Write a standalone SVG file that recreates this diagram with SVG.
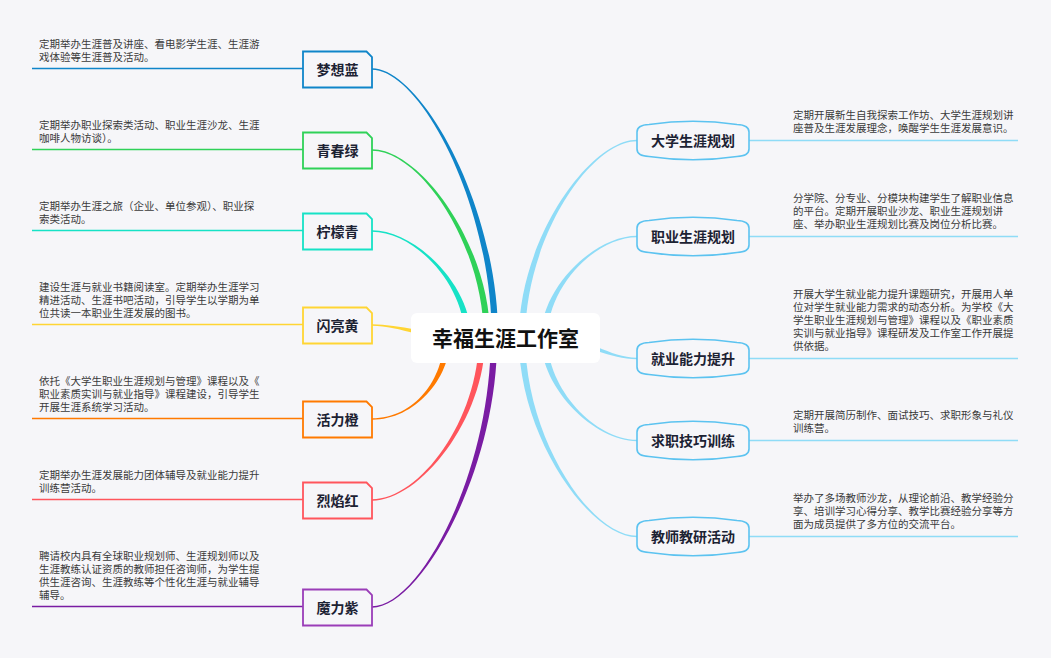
<svg xmlns="http://www.w3.org/2000/svg" width="1051" height="658" viewBox="0 0 1051 658">
<style>
.bg{fill:#f6f6f9}
.desc{font-family:"Noto Sans CJK SC","Noto Sans",sans-serif;font-size:10.5px;fill:#3a3a3a}
.lbl{font-family:"Noto Sans CJK SC","Noto Sans",sans-serif;font-size:14px;font-weight:bold;fill:#1c2233;text-anchor:middle}
.root{font-family:"Noto Sans CJK SC","Noto Sans",sans-serif;font-size:21px;font-weight:bold;fill:#111;text-anchor:middle}
.lbox{fill:#f6f6f9;stroke-width:1.8}
.rbox{fill:#f6f6f9;stroke:#5cc3f0;stroke-width:1.6}
.ul{stroke-width:1.5;fill:none}
.rul{stroke:#8fdcf7;stroke-width:1.5;fill:none}
</style>
<rect class="bg" x="0" y="0" width="1051" height="658"/>

<g id="connectors">
<path fill="#0f85c9" d="M372,68.3 C420,68.3 498.2,203.5 498.2,338 L491.8,338 C491.8,203.5 420,69.7 372,69.7 Z"/>
<path fill="#2fd158" d="M372,149.3 C420,149.3 490.2,244 490.2,338 L483.8,338 C483.8,244 420,150.7 372,150.7 Z"/>
<path fill="#16e2c6" d="M372,230.3 C415,230.3 471.2,284.5 471.2,338 L464.8,338 C464.8,284.5 415,231.7 372,231.7 Z"/>
<path fill="#ffd534" d="M372,324.3 C400,324.3 430,334.8 460,334.8 L460,341.2 C430,341.2 400,325.7 372,325.7 Z"/>
<path fill="#ff7a00" d="M372,419.7 C415,419.7 450.2,378.5 450.2,338 L443.8,338 C443.8,378.5 415,418.3 372,418.3 Z"/>
<path fill="#ff555c" d="M372,500.7 C420,500.7 485.2,419 485.2,338 L478.8,338 C478.8,419 420,499.3 372,499.3 Z"/>
<path fill="#7a1ca3" d="M372,607.7 C420,607.7 497.2,472.5 497.2,338 L490.8,338 C490.8,472.5 420,606.3 372,606.3 Z"/>
<path fill="#8fdcf7" d="M637,139.8 C590,139.8 518.8,239 518.8,338 L525.2,338 C525.2,239 590,141.2 637,141.2 Z"/>
<path fill="#8fdcf7" d="M637,235.8 C595,235.8 540.8,287 540.8,338 L547.2,338 C547.2,287 595,237.2 637,237.2 Z"/>
<path fill="#8fdcf7" d="M637,357.8 C610,357.8 585,336.8 560,336.8 L560,343.2 C585,343.2 610,359.2 637,359.2 Z"/>
<path fill="#8fdcf7" d="M637,441.2 C595,441.2 540.8,389 540.8,338 L547.2,338 C547.2,389 595,439.8 637,439.8 Z"/>
<path fill="#8fdcf7" d="M637,537.2 C590,537.2 518.8,437 518.8,338 L525.2,338 C525.2,437 590,535.8 637,535.8 Z"/>
</g>

<g id="root">
<rect x="411" y="313" width="189" height="50" rx="6" fill="#ffffff"/>
<text class="root" x="505.5" y="346">幸福生涯工作室</text>
</g>

<g id="node-mengxianglan">
<line class="ul" stroke="#0f85c9" x1="32" y1="68.5" x2="303" y2="68.5"/>
<path class="lbox" stroke="#0f85c9" d="M303,51.5 H366.5 L372,57 V87.5 H303 Z"/>
<text class="lbl" x="337.5" y="74.5">梦想蓝</text>
<text class="desc" x="39" y="48">定期举办生涯普及讲座、看电影学生涯、生涯游</text>
<text class="desc" x="39" y="61">戏体验等生涯普及活动。</text>
</g>

<g id="node-qingchunlv">
<line class="ul" stroke="#2fd158" x1="32" y1="149.5" x2="303" y2="149.5"/>
<path class="lbox" stroke="#2fd158" d="M303,132.5 H366.5 L372,138 V168.5 H303 Z"/>
<text class="lbl" x="337.5" y="155.5">青春绿</text>
<text class="desc" x="39" y="129">定期举办职业探索类活动、职业生涯沙龙、生涯</text>
<text class="desc" x="39" y="142">咖啡人物访谈）。</text>
</g>

<g id="node-ningmengqing">
<line class="ul" stroke="#16e2c6" x1="32" y1="230.5" x2="303" y2="230.5"/>
<path class="lbox" stroke="#16e2c6" d="M303,213.5 H366.5 L372,219 V249.5 H303 Z"/>
<text class="lbl" x="337.5" y="236.5">柠檬青</text>
<text class="desc" x="39" y="210">定期举办生涯之旅（企业、单位参观）、职业探</text>
<text class="desc" x="39" y="223">索类活动。</text>
</g>

<g id="node-shanlianghuang">
<line class="ul" stroke="#ffd534" x1="32" y1="324.5" x2="303" y2="324.5"/>
<path class="lbox" stroke="#ffd534" d="M303,307.5 H366.5 L372,313 V343.5 H303 Z"/>
<text class="lbl" x="337.5" y="330.5">闪亮黄</text>
<text class="desc" x="39" y="291">建设生涯与就业书籍阅读室。定期举办生涯学习</text>
<text class="desc" x="39" y="304">精进活动、生涯书吧活动，引导学生以学期为单</text>
<text class="desc" x="39" y="317">位共读一本职业生涯发展的图书。</text>
</g>

<g id="node-huolicheng">
<line class="ul" stroke="#ff7a00" x1="32" y1="418.5" x2="303" y2="418.5"/>
<path class="lbox" stroke="#ff7a00" d="M303,401.5 H366.5 L372,407 V437.5 H303 Z"/>
<text class="lbl" x="337.5" y="424.5">活力橙</text>
<text class="desc" x="39" y="385">依托《大学生职业生涯规划与管理》课程以及《</text>
<text class="desc" x="39" y="398">职业素质实训与就业指导》课程建设，引导学生</text>
<text class="desc" x="39" y="411">开展生涯系统学习活动。</text>
</g>

<g id="node-lieyanhong">
<line class="ul" stroke="#ff555c" x1="32" y1="499.5" x2="303" y2="499.5"/>
<path class="lbox" stroke="#ff555c" d="M303,482.5 H366.5 L372,488 V518.5 H303 Z"/>
<text class="lbl" x="337.5" y="505.5">烈焰红</text>
<text class="desc" x="39" y="479">定期举办生涯发展能力团体辅导及就业能力提升</text>
<text class="desc" x="39" y="492">训练营活动。</text>
</g>

<g id="node-molizi">
<line class="ul" stroke="#7a1ca3" x1="32" y1="606.5" x2="303" y2="606.5"/>
<path class="lbox" stroke="#9a3db8" d="M303,589.5 H366.5 L372,595 V625.5 H303 Z"/>
<text class="lbl" x="337.5" y="612.5">魔力紫</text>
<text class="desc" x="39" y="560">聘请校内具有全球职业规划师、生涯规划师以及</text>
<text class="desc" x="39" y="573">生涯教练认证资质的教师担任咨询师，为学生提</text>
<text class="desc" x="39" y="586">供生涯咨询、生涯教练等个性化生涯与就业辅导</text>
<text class="desc" x="39" y="599">辅导。</text>
</g>

<g id="node-daxue">
<line class="rul" x1="749" y1="140.5" x2="1018" y2="140.5"/>
<path class="rbox" d="M637,132 Q637,125 649,124.5 Q693,118 737,124.5 Q749,125 749,132 L749,149 Q749,156 737,156.5 Q693,163 649,156.5 Q637,156 637,149 Z"/>
<text class="lbl" x="693" y="146">大学生涯规划</text>
<text class="desc" x="793" y="118.5">定期开展新生自我探索工作坊、大学生涯规划讲</text>
<text class="desc" x="793" y="131.5">座普及生涯发展理念，唤醒学生生涯发展意识。</text>
</g>

<g id="node-zhiye">
<line class="rul" x1="749" y1="236.5" x2="1018" y2="236.5"/>
<path class="rbox" d="M637,228 Q637,221 649,220.5 Q693,214 737,220.5 Q749,221 749,228 L749,245 Q749,252 737,252.5 Q693,259 649,252.5 Q637,252 637,245 Z"/>
<text class="lbl" x="693" y="242">职业生涯规划</text>
<text class="desc" x="793" y="201.5">分学院、分专业、分模块构建学生了解职业信息</text>
<text class="desc" x="793" y="214.5">的平台。定期开展职业沙龙、职业生涯规划讲</text>
<text class="desc" x="793" y="227.5">座、举办职业生涯规划比赛及岗位分析比赛。</text>
</g>

<g id="node-jiuye">
<line class="rul" x1="749" y1="358.5" x2="1018" y2="358.5"/>
<path class="rbox" d="M637,350 Q637,343 649,342.5 Q693,336 737,342.5 Q749,343 749,350 L749,367 Q749,374 737,374.5 Q693,381 649,374.5 Q637,374 637,367 Z"/>
<text class="lbl" x="693" y="364">就业能力提升</text>
<text class="desc" x="793" y="297.5">开展大学生就业能力提升课题研究，开展用人单</text>
<text class="desc" x="793" y="310.5">位对学生就业能力需求的动态分析。为学校《大</text>
<text class="desc" x="793" y="323.5">学生职业生涯规划与管理》课程以及《职业素质</text>
<text class="desc" x="793" y="336.5">实训与就业指导》课程研发及工作室工作开展提</text>
<text class="desc" x="793" y="349.5">供依据。</text>
</g>

<g id="node-qiuzhi">
<line class="rul" x1="749" y1="440.5" x2="1018" y2="440.5"/>
<path class="rbox" d="M637,432 Q637,425 649,424.5 Q693,418 737,424.5 Q749,425 749,432 L749,449 Q749,456 737,456.5 Q693,463 649,456.5 Q637,456 637,449 Z"/>
<text class="lbl" x="693" y="446">求职技巧训练</text>
<text class="desc" x="793" y="418.5">定期开展简历制作、面试技巧、求职形象与礼仪</text>
<text class="desc" x="793" y="431.5">训练营。</text>
</g>

<g id="node-jiaoshi">
<line class="rul" x1="749" y1="536.5" x2="1018" y2="536.5"/>
<path class="rbox" d="M637,528 Q637,521 649,520.5 Q693,514 737,520.5 Q749,521 749,528 L749,545 Q749,552 737,552.5 Q693,559 649,552.5 Q637,552 637,545 Z"/>
<text class="lbl" x="693" y="542">教师教研活动</text>
<text class="desc" x="793" y="501.5">举办了多场教师沙龙，从理论前沿、教学经验分</text>
<text class="desc" x="793" y="514.5">享、培训学习心得分享、教学比赛经验分享等方</text>
<text class="desc" x="793" y="527.5">面为成员提供了多方位的交流平台。</text>
</g>
</svg>
